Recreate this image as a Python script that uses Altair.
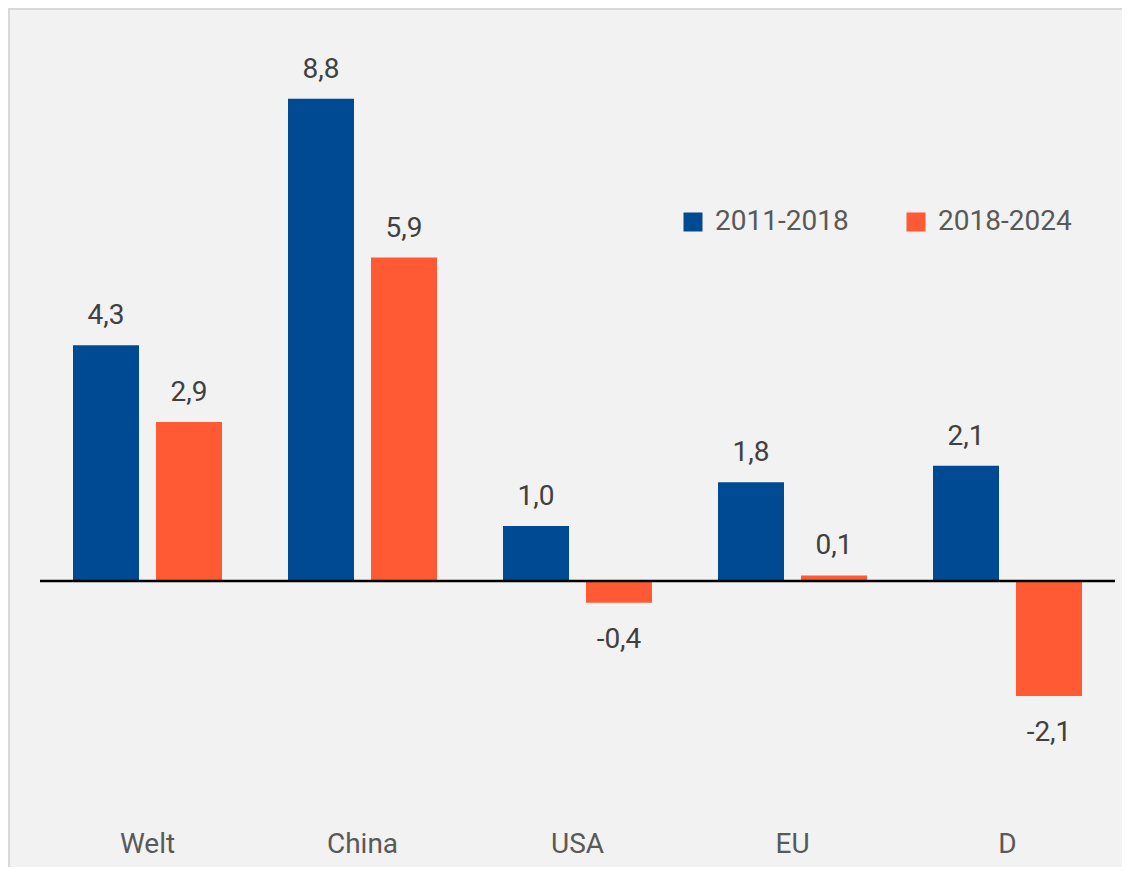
import altair as alt
import pandas as pd

categories = ["Welt", "China", "USA", "EU", "D"]
series = ["2011-2018", "2018-2024"]
values_2011_2018 = [4.3, 8.8, 1.0, 1.8, 2.1]
values_2018_2024 = [2.9, 5.9, -0.4, 0.1, -2.1]
colors = ["#004A93", "#FF5A33"]

rows = []
for cat, a, b in zip(categories, values_2011_2018, values_2018_2024):
    for s, v in zip(series, (a, b)):
        rows.append({"cat": cat, "series": s, "value": v,
                     "label": f"{v:.1f}".replace(".", ",")})
df = pd.DataFrame(rows)

W, H = 1075, 789
FONT = "Roboto"

x_enc = alt.X("cat:N", sort=categories, title=None,
              scale=alt.Scale(paddingInner=0, paddingOuter=0),
              axis=alt.Axis(orient="bottom", domain=False, ticks=False, grid=False,
                            labelAngle=0, labelFont=FONT, labelFontSize=28,
                            labelColor="#595959", labelPadding=41, zindex=2,
                            labelBaseline="alphabetic"))
xo_enc = alt.XOffset("series:N", sort=series,
                     scale=alt.Scale(paddingInner=0.2048, paddingOuter=0.3976))
y_scale = alt.Scale(domain=[-4.2, 10.2], nice=False, zero=False)
y_enc = alt.Y("value:Q", scale=y_scale, axis=None)

base = alt.Chart(df)

frame = alt.Chart(pd.DataFrame({"k": [0]})).mark_rect(
    fill="transparent", stroke="#d9d9d9", strokeWidth=2
).encode(x=alt.value(-31), x2=alt.value(W + 40), y=alt.value(-13), y2=alt.value(H + 90))

bars = base.mark_bar().encode(
    x=x_enc, xOffset=xo_enc, y=y_enc, y2=alt.datum(0),
    color=alt.Color("series:N", sort=series,
                    scale=alt.Scale(domain=series, range=colors),
                    legend=alt.Legend(title=None, orient="none", direction="horizontal",
                                      legendX=639, legendY=186, symbolType="square",
                                      symbolSize=361, symbolStrokeWidth=0,
                                      labelFont=FONT, labelFontSize=28,
                                      labelColor="#595959", labelOffset=8,
                                      columnPadding=53, padding=0))
)

pos_text = base.transform_filter("datum.value >= 0").mark_text(
    font=FONT, fontSize=28, color="#404040", baseline="alphabetic", dy=-21
).encode(x=x_enc, xOffset=xo_enc, y=y_enc, text="label:N")

neg_text = base.transform_filter("datum.value < 0").mark_text(
    font=FONT, fontSize=28, color="#404040", baseline="alphabetic", dy=45
).encode(x=x_enc, xOffset=xo_enc, y=y_enc, text="label:N")

zero = alt.Chart(pd.DataFrame({"z": [0]})).mark_rule(color="#000000", strokeWidth=2.5).encode(
    y=alt.Y("z:Q", scale=y_scale, axis=None)
)

chart = alt.layer(frame, bars, zero, pos_text, neg_text).properties(
    width=W, height=H,
    autosize=alt.AutoSizeParams(type="none"),
    padding={"left": 32, "top": 14, "right": 7, "bottom": 56},
    background="#f2f2f2",
).configure_view(stroke=None)

chart.save("out.html", embed_options={"renderer": "svg", "actions": False})
